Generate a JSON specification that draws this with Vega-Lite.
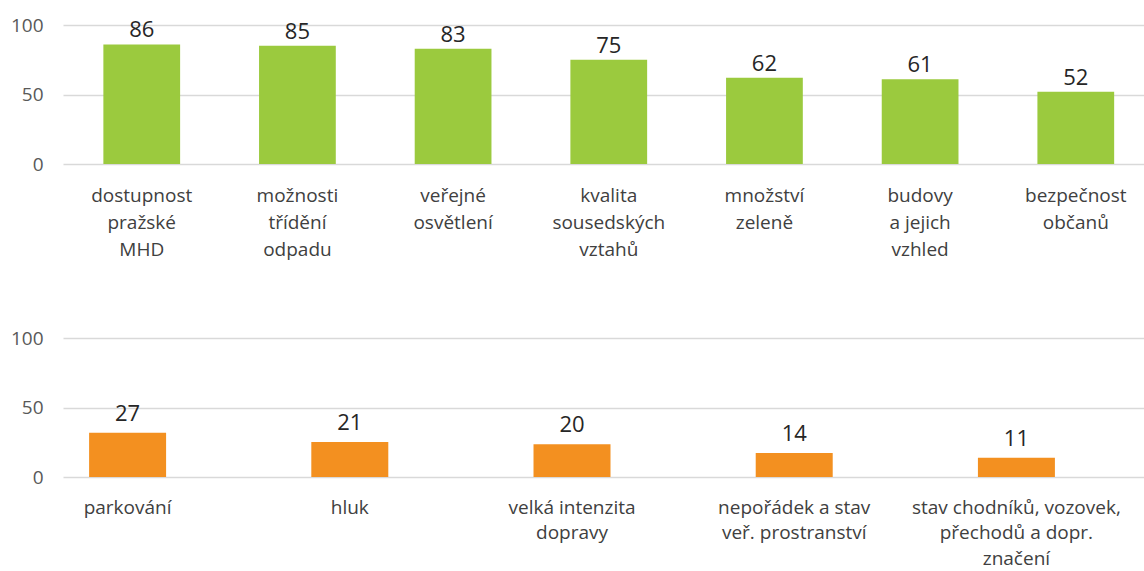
{
  "$schema": "https://vega.github.io/schema/vega-lite/v6.json",
  "padding": {"top": 16, "left": 10, "right": 0, "bottom": 0},
  "background": "white",
  "spacing": 70,
  "config": {
    "font": "Open Sans",
    "view": {"stroke": null}
  },
  "vconcat": [
    {
      "width": 1081,
      "height": 139,
      "data": {
        "values": [
          {"aspekt": "dostupnost pražské MHD", "hodnota": 86},
          {"aspekt": "možnosti třídění odpadu", "hodnota": 85},
          {"aspekt": "veřejné osvětlení", "hodnota": 83},
          {"aspekt": "kvalita sousedských vztahů", "hodnota": 75},
          {"aspekt": "množství zeleně", "hodnota": 62},
          {"aspekt": "budovy a jejich vzhled", "hodnota": 61},
          {"aspekt": "bezpečnost občanů", "hodnota": 52}
        ]
      },
      "encoding": {
        "x": {
          "field": "aspekt",
          "type": "nominal",
          "sort": null,
          "scale": {"paddingInner": 0.507, "paddingOuter": 0.2255, "align": 0.575},
          "axis": {
            "title": null,
            "labelAngle": 0,
            "domain": false,
            "ticks": false,
            "labelPadding": 22,
            "labelFontSize": 19,
            "labelLineHeight": 27,
            "labelColor": "#404040",
            "labelBaseline": "top",
            "labelLimit": 0,
            "labelExpr": "datum.value == 'budovy a jejich vzhled' ? ['budovy', 'a jejich', 'vzhled'] : split(datum.value, ' ')"
          }
        },
        "y": {
          "field": "hodnota",
          "type": "quantitative",
          "scale": {"domain": [0, 100]},
          "axis": {
            "title": null,
            "values": [0, 50, 100],
            "domain": false,
            "ticks": false,
            "labelPadding": 20,
            "labelFontSize": 19,
            "labelColor": "#595959",
            "gridColor": "#d9d9d9",
            "gridWidth": 1.3
          }
        }
      },
      "layer": [
        {"mark": {"type": "bar", "color": "#9BCA3E"}},
        {
          "mark": {"type": "text", "baseline": "alphabetic", "dy": -7, "fontSize": 22, "color": "#262626"},
          "encoding": {"text": {"field": "hodnota", "type": "quantitative"}}
        }
      ]
    },
    {
      "width": 1081,
      "height": 139,
      "data": {
        "values": [
          {"aspekt": "parkování", "sloupec": 31.8, "popisek": 27},
          {"aspekt": "hluk", "sloupec": 25.1, "popisek": 21},
          {"aspekt": "velká intenzita dopravy", "sloupec": 23.5, "popisek": 20},
          {"aspekt": "nepořádek a stav veř. prostranství", "sloupec": 17.2, "popisek": 14},
          {"aspekt": "stav chodníků, vozovek, přechodů a dopr. značení", "sloupec": 13.9, "popisek": 11}
        ]
      },
      "encoding": {
        "x": {
          "field": "aspekt",
          "type": "nominal",
          "sort": null,
          "scale": {"paddingInner": 0.6535, "paddingOuter": 0.2592, "align": 0.2266},
          "axis": {
            "title": null,
            "labelAngle": 0,
            "domain": false,
            "ticks": false,
            "labelPadding": 21,
            "labelFontSize": 19,
            "labelLineHeight": 25.5,
            "labelColor": "#404040",
            "labelBaseline": "top",
            "labelLimit": 0,
            "labelExpr": "datum.value == 'velká intenzita dopravy' ? ['velká intenzita', 'dopravy'] : datum.value == 'nepořádek a stav veř. prostranství' ? ['nepořádek a stav', 'veř. prostranství'] : datum.value == 'stav chodníků, vozovek, přechodů a dopr. značení' ? ['stav chodníků, vozovek,', 'přechodů a dopr.', 'značení'] : datum.value"
          }
        },
        "y": {
          "field": "sloupec",
          "type": "quantitative",
          "scale": {"domain": [0, 100]},
          "axis": {
            "title": null,
            "values": [0, 50, 100],
            "domain": false,
            "ticks": false,
            "labelPadding": 20,
            "labelFontSize": 19,
            "labelColor": "#595959",
            "gridColor": "#d9d9d9",
            "gridWidth": 1.3
          }
        }
      },
      "layer": [
        {"mark": {"type": "bar", "color": "#F39020"}},
        {
          "mark": {"type": "text", "baseline": "alphabetic", "dy": -12, "fontSize": 22, "color": "#262626"},
          "encoding": {"text": {"field": "popisek", "type": "quantitative"}}
        }
      ]
    }
  ]
}
